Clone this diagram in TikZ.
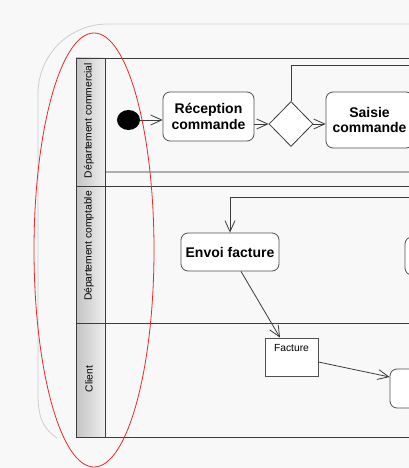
\documentclass[tikz,border=0pt]{standalone}
\usepackage{fontspec}
\setmainfont{Liberation Sans}
\usetikzlibrary{shapes.geometric,arrows.meta}
\definecolor{bg}{RGB}{248,248,248}
\definecolor{ln}{RGB}{60,60,60}
\definecolor{bx}{RGB}{80,80,80}
\definecolor{hdA}{RGB}{196,196,196}
\definecolor{hdB}{RGB}{238,238,238}
\definecolor{outl}{RGB}{205,205,205}
\definecolor{sepc}{RGB}{175,175,175}
\definecolor{ovl}{RGB}{235,40,40}
\begin{document}
\begin{tikzpicture}[x=1pt,y=-1pt,
  flow/.style={draw=ln, line width=0.8pt, -{Straight Barb[length=11pt,width=10pt,line width=0.8pt]}},
  plain/.style={draw=ln, line width=0.8pt},
  act/.style={draw=bx, line width=0.8pt, fill=white, rounded corners=7pt,
    font=\fontsize{14}{15.5}\selectfont\bfseries, align=center, inner sep=0pt},
  lanelbl/.style={rotate=90, font=\fontsize{10.3}{12}\selectfont, inner sep=0pt},
  frame/.style={draw=ln, line width=0.9pt},
]
\clip (0,0) rectangle (409,468);
\fill[bg] (0,0) rectangle (409,468);
% outer rounded outline
\draw[outl, line width=0.8pt] (420,24) -- (108,24) .. controls (69,24) and (38,55) .. (38,94)
  -- (38,395) .. controls (38,420) and (45,430) .. (57,438);
% lane headers
\shade[left color=hdA, right color=hdB] (76,58) rectangle (105,437);
\draw[sepc, line width=1.5pt] (105,172) -- (420,172);
\draw[frame] (420,58) -- (76,58) -- (76,437) -- (420,437);
\draw[frame] (105,58) -- (105,437);
\draw[frame] (76,186) -- (420,186);
\draw[frame] (76,323) -- (420,323);
\node[lanelbl] (lc) at (89,120.5) {Département commercial};
\node[lanelbl] (lp) at (89,246) {Département comptable};
\node[lanelbl] (lk) at (89,379) {Client};
% nodes
\node[ellipse, fill=black, minimum width=23pt, minimum height=20pt, inner sep=0pt] (init) at (128.5,120) {};
\node[act, minimum width=91pt, minimum height=49pt] (rec) at (208.5,116.5) {Réception\\commande};
\node[diamond, draw=ln, line width=0.8pt, fill=white, minimum width=44pt, minimum height=45pt, inner sep=0pt] (dia) at (291,124) {};
\node[act, minimum width=87pt, minimum height=56pt] (sai) at (369.5,120) {Saisie\\commande};
\node[act, minimum width=98pt, minimum height=38pt] (env) at (230,252) {Envoi facture};
\node[act, minimum width=85pt, minimum height=38pt] (r2) at (447.5,256) {};
\node[draw=bx, line width=0.8pt, fill=white, minimum width=53pt, inner sep=0pt,
  text height=13pt, text depth=25pt, font=\fontsize{10.3}{12}\selectfont] (fac) at (291.5,357) {Facture};
\node[act, minimum width=90pt, minimum height=39pt] (r3) at (435,388.5) {};
\coordinate (up) at (420,65);
\coordinate (in2) at (420,197);
% connectors
\draw[flow] (init) -- (init -| rec.west);
\draw[flow] (rec.east |- dia) -- (dia.west);
\draw[flow] (dia.east) -- (dia.east -| sai.west);
\draw[plain] (dia.north) |- (up);
\draw[flow] (in2) -| (env.north);
\draw[flow] ([xshift=11pt]env.south) -- ([xshift=-11.5pt]fac.north);
\draw[flow] ([yshift=-5pt]fac.east) -- ([yshift=11.5pt]r3.west);
% red overlay ellipse
\draw[ovl, line width=0.8pt] (94,250) ellipse [x radius=60pt, y radius=217pt];
\end{tikzpicture}
\end{document}
